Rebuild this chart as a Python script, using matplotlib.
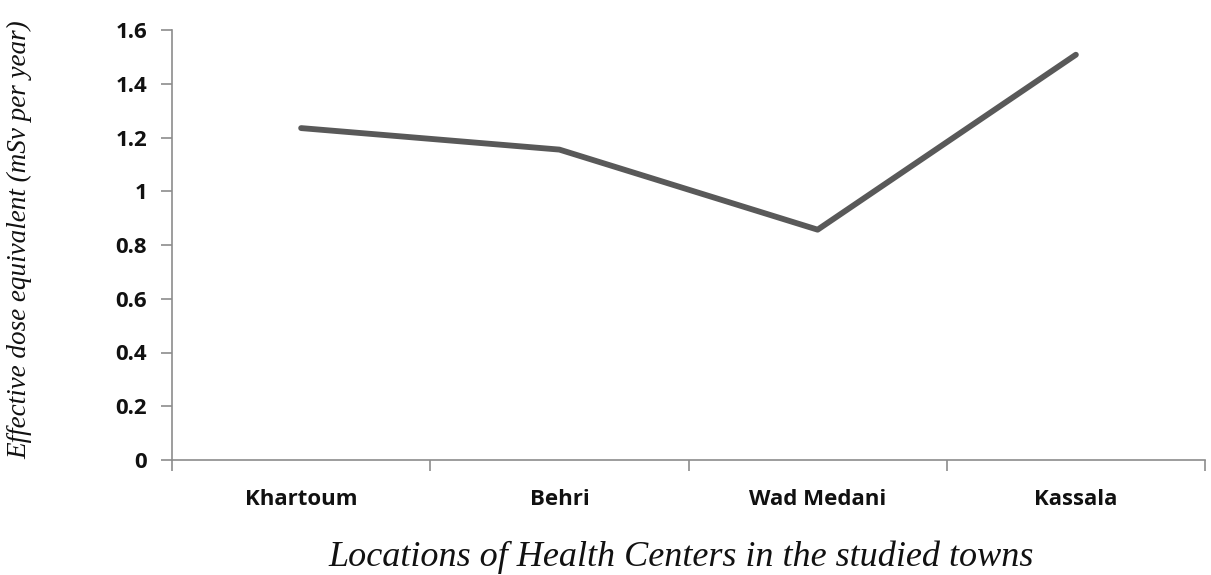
import matplotlib
matplotlib.use("Agg")
import matplotlib.pyplot as plt

locations = ["Khartoum", "Behri", "Wad Medani", "Kassala"]
dose = [1.235, 1.155, 0.857, 1.508]
yticks = [0, 0.2, 0.4, 0.6, 0.8, 1, 1.2, 1.4, 1.6]
ytick_labels = ["0", "0.2", "0.4", "0.6", "0.8", "1", "1.2", "1.4", "1.6"]

fig = plt.figure(figsize=(12.11, 5.75), dpi=100)
ax = fig.add_axes([172/1211, 115/575, (1205-172)/1211, (460-30)/575])

x = list(range(len(locations)))
ax.plot(x, dose, color="#595959", linewidth=4.2, solid_capstyle="round", solid_joinstyle="round")

ax.set_xlim(-0.5, len(locations) - 0.5)
ax.set_ylim(0, 1.6)
ax.set_yticks(yticks)
ax.set_yticklabels(ytick_labels)
ax.set_xticks(x)
ax.set_xticklabels(locations)
ax.set_xticks([i - 0.5 for i in range(len(locations) + 1)], minor=True)
ax.tick_params(axis="x", which="major", length=0, pad=21)
ax.tick_params(axis="x", which="minor", length=8, width=1.2, color="#8c8c8c")
ax.tick_params(axis="y", length=8, width=1.2, color="#8c8c8c", pad=10)

for lab in ax.get_xticklabels() + ax.get_yticklabels():
    lab.set_fontfamily("Open Sans")
    lab.set_fontweight("bold")
    lab.set_fontsize(16)
    lab.set_color("#111111")

for s in ["top", "right"]:
    ax.spines[s].set_visible(False)
for s in ["left", "bottom"]:
    ax.spines[s].set_color("#8c8c8c")
    ax.spines[s].set_linewidth(1.2)

fig.text(681/1211, (575-557)/575, "Locations of Health Centers in the studied towns",
         ha="center", va="center", fontsize=26, fontstyle="italic", family="Liberation Serif", color="#111111")
fig.text(20/1211, (575-240)/575, "Effective dose equivalent (mSv per year)",
         ha="center", va="center", rotation=90, fontsize=19.5, fontstyle="italic", family="Liberation Serif", color="#111111")

fig.savefig("out.png", dpi=100)
